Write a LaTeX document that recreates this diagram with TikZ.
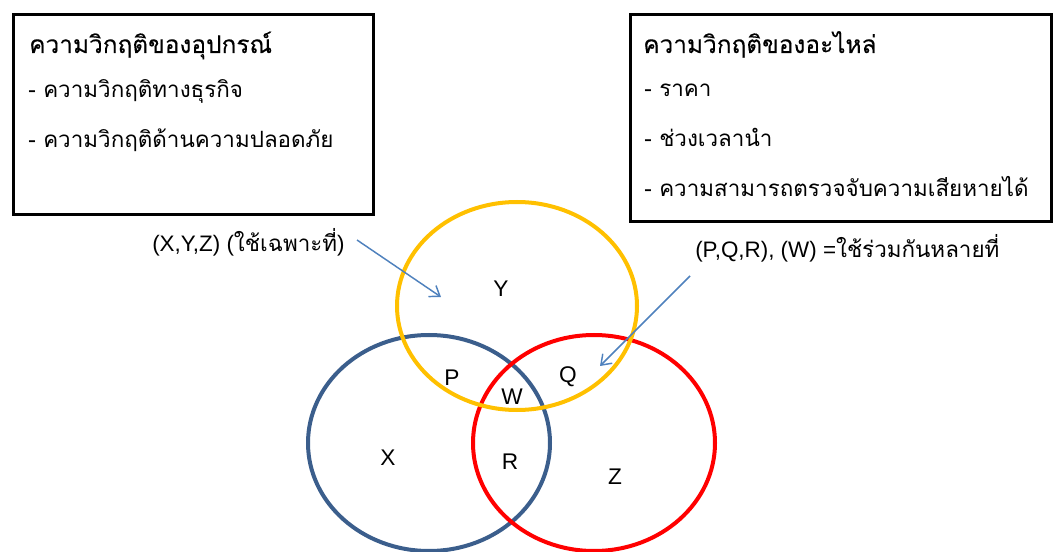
\documentclass[tikz,border=0pt]{standalone}
\usepackage{fontspec}
\setmainfont{Liberation Sans}
\newfontfamily\thai[Script=Thai]{Loma}
\newfontfamily\thaititle[Script=Thai,FakeBold=0.3]{Loma}
\usetikzlibrary{arrows.meta,shapes.geometric}
\definecolor{ybord}{HTML}{FFC000}
\definecolor{bbord}{HTML}{3B5E8C}
\definecolor{rbord}{HTML}{FF0000}
\definecolor{arrc}{HTML}{4F81BD}
\begin{document}
\begin{tikzpicture}[x=0.75pt,y=-0.75pt,
  boxst/.style={draw=black,line width=2.2pt,rectangle,anchor=north west,inner sep=0pt},
  thtext/.style={anchor=base west,inner sep=0pt,font=\thai\fontsize{16.8}{20}\selectfont},
  thtitle/.style={thtext,font=\thaititle\fontsize{18.3}{22}\selectfont},
  lab/.style={anchor=base west,inner sep=0pt,font=\fontsize{16.8}{20}\selectfont},
  letter/.style={inner sep=0pt,font=\fontsize{17}{20}\selectfont},
  venn/.style={draw,ellipse,line width=3pt,inner sep=0pt},
  arr/.style={draw=arrc,line width=1.1pt,-{Straight Barb[length=7pt,width=10pt]}}]
\useasboundingbox (0,0) rectangle (1057,552);
% boxes
\node[boxst,minimum width=270pt,minimum height=150pt] (lbox) at (12,13) {};
\node[boxst,minimum width=315.75pt,minimum height=155.25pt] (rbox) at (629,13) {};
% left box text
\node[thtitle] (lt) at (29,53) {ความวิกฤติของอุปกรณ์};
\node[thtext] (l1) at (28,98) {- ความวิกฤติทางธุรกิจ};
\node[thtext] (l2) at (28,148) {- ความวิกฤติด้านความปลอดภัย};
% right box text
\node[thtitle] (rt) at (643,53) {ความวิกฤติของอะไหล่};
\node[thtext] (r1) at (644,97) {- ราคา};
\node[thtext] (r2) at (644,147) {- ช่วงเวลานำ};
\node[thtext] (r3) at (644,197) {- ความสามารถตรวจจับความเสียหายได้};
% circles
\node[venn,draw=bbord,minimum width=181.5pt,minimum height=162pt] (cx) at (429,443) {};
\node[venn,draw=rbord,minimum width=181.5pt,minimum height=162pt] (cz) at (594,443) {};
\node[venn,draw=ybord,minimum width=180pt,minimum height=156pt] (cy) at (517,306) {};
% labels
\node[lab] (labl) at (152,252) {(X,Y,Z) ({\thai ใช้เฉพาะที่})};
\node[lab] (labr) at (695,258) {(P,Q,R), (W) ={\thai ใช้ร่วมกันหลายที่}};
% arrows
\coordinate (a1s) at (357,240);
\coordinate (a1e) at (441,297);
\coordinate (a2s) at (690,276);
\coordinate (a2e) at (600,366);
\draw[arr] (a1s) -- (a1e);
\draw[arr] (a2s) -- (a2e);
% letters
\node[letter] (ly) at (501,289) {Y};
\node[letter] (lp) at (452,378) {P};
\node[letter] (lw) at (512,397) {W};
\node[letter] (lq) at (568,377) {Q};
\node[letter] (lx) at (388,458) {X};
\node[letter] (lr) at (510,462) {R};
\node[letter] (lz) at (615,477) {Z};
\end{tikzpicture}
\end{document}
